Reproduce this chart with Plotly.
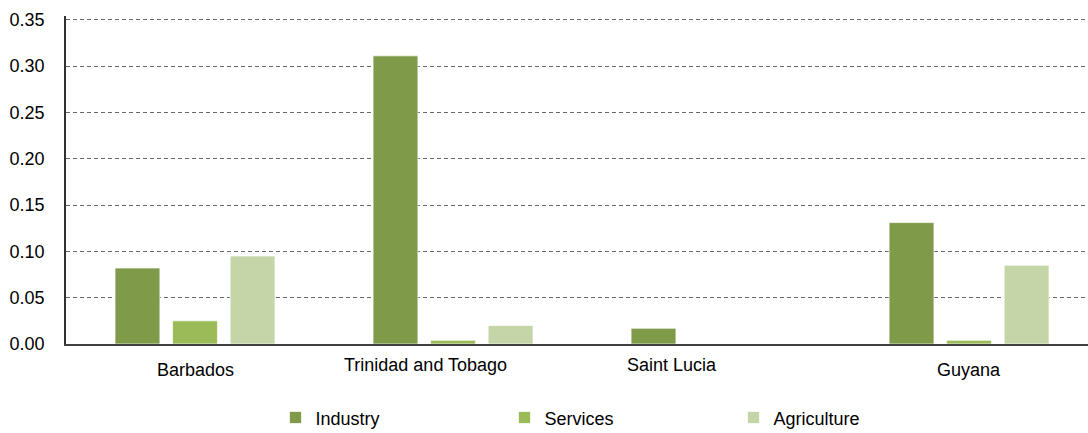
import plotly.graph_objects as go

# Countries and sector values
countries = ["Barbados", "Trinidad and Tobago", "Saint Lucia", "Guyana"]
industry = [0.082, 0.311, 0.017, 0.131]
services = [0.025, 0.004, 0.0, 0.004]
agriculture = [0.095, 0.020, 0.0, 0.085]

y_ticks = [0.00, 0.05, 0.10, 0.15, 0.20, 0.25, 0.30, 0.35]
y_tick_text = ["0.00", "0.05", "0.10", "0.15", "0.20", "0.25", "0.30", "0.35"]

series = [
    ("Industry", industry, "#7F9A48"),
    ("Services", services, "#9BBB59"),
    ("Agriculture", agriculture, "#C4D6A7"),
]

FONT = "Liberation Sans, Arial, sans-serif"

fig = go.Figure()
for name, vals, color in series:
    fig.add_trace(go.Bar(
        name=name,
        x=countries,
        y=vals,
        marker=dict(color=color, line=dict(color="rgba(255,255,255,0.7)", width=1)),
    ))

# Category labels drawn under the axis, each with its own small offset
label_dx = [0, -28, -39, 0]
label_dy = [-26, -21, -21, -26]
for i, c in enumerate(countries):
    fig.add_annotation(
        x=i, y=0, xref="x", yref="y", text=c, showarrow=False,
        xanchor="center", yanchor="middle",
        xshift=label_dx[i], yshift=label_dy[i],
        font=dict(family=FONT, size=18, color="#000000"),
    )

fig.update_layout(
    width=1088,
    height=433,
    margin=dict(l=66, r=0, t=16, b=89, autoexpand=False),
    paper_bgcolor="white",
    plot_bgcolor="white",
    barmode="group",
    bargap=0.331,
    bargroupgap=0.22,
    font=dict(family=FONT, size=18, color="#000000"),
    legend=dict(
        orientation="h",
        x=0.205, xanchor="left",
        y=-0.225, yanchor="middle",
        entrywidth=184,
        entrywidthmode="pixels",
        itemwidth=30,
        font=dict(family=FONT, size=18, color="#000000"),
        bgcolor="rgba(0,0,0,0)",
    ),
    xaxis=dict(
        type="category",
        range=[-0.5, 3.461],
        showticklabels=False,
        showgrid=False,
        showline=True,
        linecolor="#404040",
        linewidth=2,
        ticks="",
        zeroline=False,
    ),
    yaxis=dict(
        range=[0, 0.354],
        tickvals=y_ticks,
        ticktext=y_tick_text,
        showgrid=True,
        gridcolor="#6a6a6a",
        gridwidth=1,
        griddash="4px,3px",
        showline=True,
        linecolor="#303030",
        linewidth=1.5,
        zeroline=False,
        ticks="",
        ticklabelstandoff=16,
        tickfont=dict(family=FONT, size=18, color="#000000"),
    ),
)

fig.write_html("out.html")
